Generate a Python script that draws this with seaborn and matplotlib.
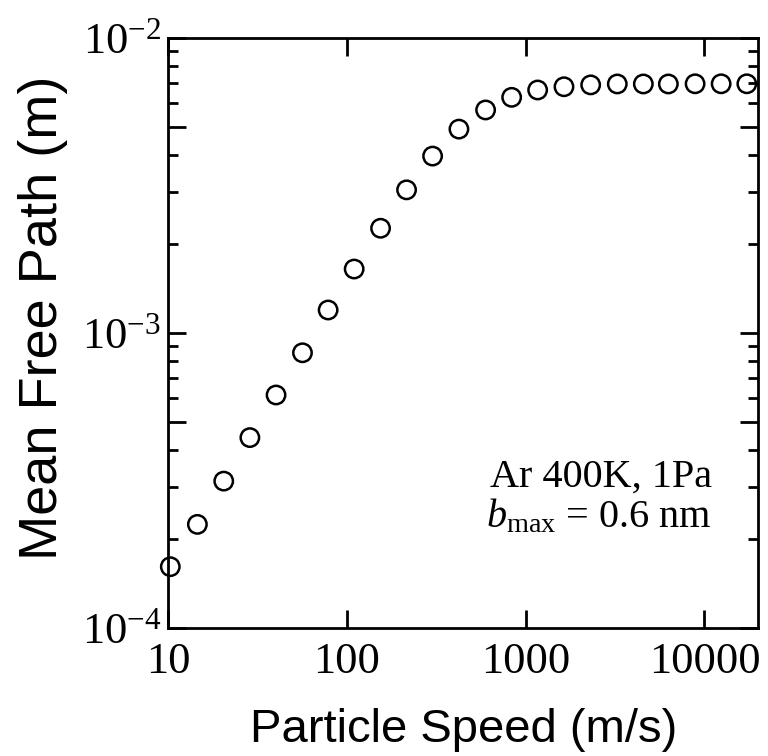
import numpy as np
import pandas as pd
import matplotlib
matplotlib.use("Agg")
import matplotlib.pyplot as plt
import matplotlib.ticker as mticker
import seaborn as sns

speed = [10.3, 14.6, 20.5, 28.7, 40.2, 56.5, 78.6, 109.9, 154.4, 215.8, 301.7,
         423.5, 597, 835, 1167, 1638, 2310, 3254, 4550, 6280, 8860, 12390, 17250]
mfp = [1.61e-4, 2.24e-4, 3.14e-4, 4.41e-4, 6.15e-4, 8.55e-4, 1.194e-3, 1.644e-3,
       2.26e-3, 3.05e-3, 3.97e-3, 4.90e-3, 5.69e-3, 6.28e-3, 6.65e-3, 6.82e-3,
       6.92e-3, 6.97e-3, 6.97e-3, 6.97e-3, 6.98e-3, 6.98e-3, 6.98e-3]
x_ticks = [10, 100, 1000, 10000]
x_ticklabels = ["10", "100", "1000", "10000"]
y_ticks = [1e-4, 1e-3, 1e-2]
y_ticklabels = ["10$^{-4}$", "10$^{-3}$", "10$^{-2}$"]

sns.set_theme(style="ticks")
plt.rcParams["mathtext.fontset"] = "custom"
plt.rcParams["mathtext.rm"] = "Liberation Serif"
plt.rcParams["mathtext.it"] = "Liberation Serif:italic"
plt.rcParams["font.family"] = ["Liberation Sans", "DejaVu Sans"]
plt.rcParams["text.color"] = "black"
plt.rcParams["axes.labelcolor"] = "black"
plt.rcParams["xtick.color"] = "black"
plt.rcParams["ytick.color"] = "black"
plt.rcParams["xtick.labelcolor"] = "black"
plt.rcParams["ytick.labelcolor"] = "black"

df = pd.DataFrame({"speed": speed, "mfp": mfp})

fig = plt.figure(figsize=(7.68, 7.56), dpi=100)
ax = fig.add_axes([0.21875, 0.1697, 0.9874 - 0.21875, 0.9501 - 0.1697])

sns.scatterplot(data=df, x="speed", y="mfp", ax=ax, marker="o", s=175,
                facecolor="none", edgecolor="black", linewidth=1.8, zorder=3,
                clip_on=False)

ax.set_xscale("log")
ax.set_yscale("log")
ax.set_xlim(10, 20000)
ax.set_ylim(1e-4, 1e-2)

serif = ["Liberation Serif", "DejaVu Serif"]
ax.xaxis.set_major_locator(mticker.FixedLocator(x_ticks))
ax.xaxis.set_minor_locator(mticker.NullLocator())
ax.set_xticklabels(x_ticklabels, fontfamily=serif, fontsize=32)

ymaj = []
ylab = []
for t, lab in zip(y_ticks, y_ticklabels):
    ymaj.append(t)
    ylab.append(lab)
    if t < 1e-2:
        ymaj.append(5 * t)
        ylab.append("")
ax.yaxis.set_major_locator(mticker.FixedLocator(ymaj))
ax.yaxis.set_major_formatter(mticker.FixedFormatter(ylab))
ax.yaxis.set_minor_locator(mticker.LogLocator(base=10, subs=(2, 3, 4, 6, 7, 8, 9)))
ax.yaxis.set_minor_formatter(mticker.NullFormatter())
for lbl in ax.get_yticklabels():
    lbl.set_fontfamily(serif)
    lbl.set_fontsize(32)

ax.tick_params(axis="both", which="both", direction="in", top=True, right=True,
               color="black", width=2)
ax.tick_params(axis="both", which="major", length=13)
ax.tick_params(axis="y", which="minor", length=7)
ax.tick_params(axis="x", which="major", pad=10)
ax.tick_params(axis="y", which="major", pad=5)

for sp in ax.spines.values():
    sp.set_linewidth(2)
    sp.set_color("black")

ax.set_xlabel("Particle Speed (m/s)", fontsize=34, labelpad=19, color="black")
ax.set_ylabel("Mean Free Path (m)", fontsize=39, color="black")
ax.yaxis.set_label_coords(-0.17, 0.525)

ax.text(0.9215, 0.2385, "Ar 400K, 1Pa", transform=ax.transAxes, ha="right",
        va="baseline", fontfamily=serif, fontsize=29, color="black")
ax.text(0.9215, 0.170, r"$b_{\mathrm{max}}$ = 0.6 nm", transform=ax.transAxes,
        ha="right", va="baseline", fontfamily=serif, fontsize=29, color="black")

fig.savefig("out.png", dpi=100, facecolor="white")
